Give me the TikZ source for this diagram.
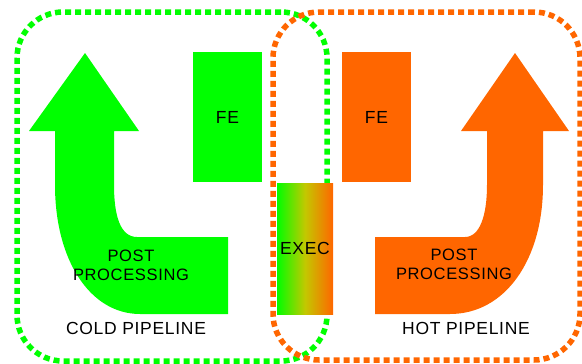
\documentclass[tikz,border=0pt]{standalone}
\usepackage{fontspec}
\setmainfont{Liberation Sans}
\newfontfamily\lblfont[LetterSpace=4]{Liberation Sans}
\usepackage{tikz}

\definecolor{cold}{RGB}{0,255,0}
\definecolor{hot}{RGB}{255,102,0}
\definecolor{warm}{RGB}{195,200,0}

\begin{document}
\begin{tikzpicture}[x=1pt, y=-1pt,
  pipe/.style={draw, line width=5.5pt, dash pattern=on 6pt off 4pt, rounded corners=46pt, rectangle},
  stage/.style={rectangle, inner sep=0pt, minimum width=69pt, minimum height=130pt},
  lbl/.style={font=\lblfont\fontsize{17.5}{19.5}\selectfont, align=center},
  sublbl/.style={lbl, font=\lblfont\fontsize{16.5}{19.5}\selectfont}]
\useasboundingbox (0,0) rectangle (582,364);

\node (coldbox) [pipe, draw=cold, minimum width=310pt, minimum height=349pt] at (172,186.5) {};
\node (hotbox) [pipe, draw=hot, minimum width=307pt, minimum height=348pt] at (426.5,186) {};

\fill[cold] (85,53) -- (139,131) -- (114,131) -- (114,185)
  .. controls (114,215) and (120,237) .. (137,237) -- (228,237) -- (228,314) -- (140,314)
  .. controls (90,314) and (55,260) .. (55,185) -- (55,131) -- (29,131) -- cycle;
\fill[hot] (515,53) -- (569,131) -- (543,131) -- (543,185)
  .. controls (543,260) and (505,314) .. (450,314) -- (375,314) -- (375,237) -- (465,237)
  .. controls (480,237) and (487,215) .. (487,185) -- (487,131) -- (461,131) -- cycle;

\node (fecold) [stage, fill=cold] at (227.5,117) {};
\node (fehot) [stage, fill=hot] at (376.5,117) {};
\node (exec) [stage, minimum width=56pt, minimum height=131pt, left color=cold, right color=hot, middle color=warm] at (305,248.5) {};

\node (fecoldtxt) [lbl] at (fecold) {FE};
\node (fehottxt) [lbl] at (fehot) {FE};
\node (exectxt) [lbl] at (exec) {EXEC};
\node (postcold) [sublbl] at (131,265.5) {POST\\PROCESSING};
\node (posthot) [sublbl] at (454,264.5) {POST\\PROCESSING};
\node (coldlbl) [lbl] at (136,328) {COLD PIPELINE};
\node (hotlbl) [lbl] at (466,328) {HOT PIPELINE};

\end{tikzpicture}
\end{document}
